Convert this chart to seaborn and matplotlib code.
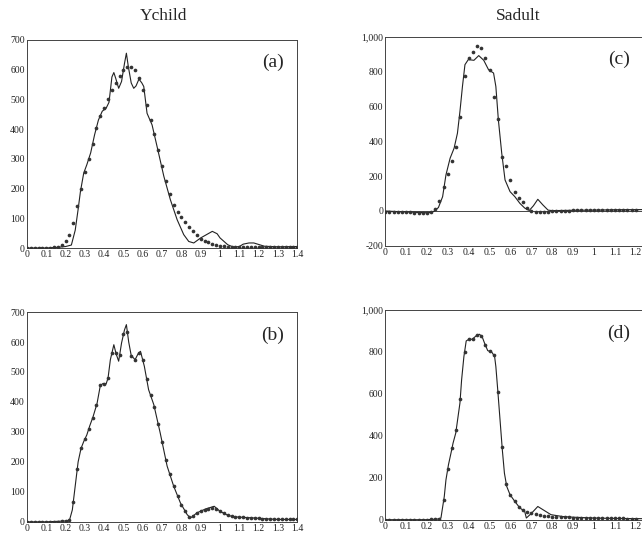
import numpy as np
import pandas as pd
import matplotlib
matplotlib.use("Agg")
import matplotlib.pyplot as plt
import seaborn as sns
from matplotlib.ticker import FuncFormatter, MultipleLocator

# ---- data ----
# sampling grid for the dotted (model) series
grid_y = np.round(np.arange(0, 1.401, 0.02), 2)   # Ychild, 0 .. 1.4
grid_s = np.round(np.arange(0, 1.201, 0.02), 2)   # Sadult, 0 .. 1.2

# (a) Ychild, solid line
a_line_x = [0, 0.10, 0.15, 0.20, 0.23, 0.25, 0.265, 0.277, 0.294, 0.31, 0.33, 0.35, 0.37,
            0.39, 0.41, 0.425, 0.44, 0.45, 0.46, 0.475, 0.49, 0.505, 0.515, 0.525, 0.54,
            0.553, 0.565, 0.58, 0.595, 0.605, 0.622, 0.648, 0.674, 0.709, 0.743, 0.778,
            0.812, 0.838, 0.864, 0.9, 0.93, 0.96, 0.985, 1.0, 1.04, 1.07, 1.1, 1.12, 1.15,
            1.175, 1.2, 1.23, 1.3, 1.4]
a_line_y = [0, 0, 2, 5, 10, 60, 130, 190, 252, 280, 320, 380, 430,
            460, 470, 490, 575, 590, 570, 537, 560, 620, 655, 610, 555,
            537, 545, 568, 555, 543, 453, 414, 341, 241, 162, 95,
            45, 22, 17, 34, 45, 56, 48, 34, 11, 3, 5, 13, 17,
            17, 12, 6, 4, 5]
# (a) Ychild, dots
a_dots = [0, 0, 0, 0, 0, 0, 1, 2, 4, 9,
          22, 45, 85, 140, 200, 255, 300, 350, 405, 445,
          470, 500, 530, 555, 578, 600, 610, 608, 597, 572,
          530, 480, 430, 385, 330, 275, 225, 180, 145, 120,
          105, 88, 72, 58, 45, 32, 25, 19, 14, 10,
          8, 6, 5, 4, 3, 3, 2, 2, 2, 2,
          2, 2, 2, 2, 2, 3, 3, 3, 3, 3, 3]

# (b) Ychild, solid line
b_line_x = [0, 0.1, 0.2, 0.22, 0.235, 0.25, 0.265, 0.28, 0.294, 0.31, 0.325, 0.342, 0.363,
            0.38, 0.395, 0.41, 0.42, 0.432, 0.45, 0.462, 0.475, 0.49, 0.505, 0.515, 0.527,
            0.54, 0.56, 0.575, 0.588, 0.608, 0.63, 0.657, 0.69, 0.726, 0.76, 0.795, 0.83,
            0.847, 0.865, 0.88, 0.925, 0.97, 1.0, 1.04, 1.07, 1.12, 1.175, 1.245, 1.3, 1.4]
b_line_y = [0, 0, 3, 5, 40, 120, 200, 245, 268, 290, 320, 350, 395,
            455, 462, 460, 480, 541, 591, 560, 536, 597, 640, 658, 600,
            555, 541, 560, 569, 519, 441, 391, 297, 186, 119, 63, 24,
            13, 22, 30, 43, 52, 35, 22, 17, 15, 13, 10, 8, 8]
# (b) Ychild, dots
b_dots = [0, 0, 0, 0, 0, 0, 0, 0, 1, 2,
          3, 5, 65, 175, 245, 277, 310, 347, 389, 455,
          461, 480, 563, 565, 558, 626, 634, 555, 541, 563,
          540, 477, 422, 382, 326, 266, 205, 160, 119, 87,
          57, 35, 17, 19, 30, 36, 41, 44, 45, 42,
          35, 28, 22, 19, 17, 16, 15, 14, 14, 13,
          12, 11, 10, 10, 9, 8, 8, 8, 8, 8, 8]

# (c) Sadult, solid line
c_line_x = [0, 0.05, 0.1, 0.15, 0.2, 0.22, 0.236, 0.255, 0.275, 0.291, 0.311, 0.33, 0.346,
            0.358, 0.37, 0.382, 0.398, 0.425, 0.448, 0.472, 0.495, 0.519, 0.53, 0.542,
            0.558, 0.574, 0.598, 0.621, 0.645, 0.668, 0.69, 0.71, 0.731, 0.755, 0.78, 0.8,
            0.9, 1.0, 1.1, 1.23]
c_line_y = [0, -3, -5, -8, -10, -8, 0, 20, 82, 207, 303, 360, 446,
            571, 714, 839, 868, 864, 891, 864, 810, 791, 714, 523,
            333, 178, 111, 82, 44, 17, 3, 30, 67, 35, 5, 2,
            4, 5, 7, 8]
# (c) Sadult, dots
c_dots = [-3, -4, -5, -5, -6, -7, -8, -9, -10, -10,
          -10, -5, 10, 60, 140, 210, 285, 365, 540, 772,
          875, 910, 945, 935, 877, 810, 655, 530, 310, 260,
          180, 110, 75, 50, 15, -2, -5, -6, -5, -3,
          -1, 0, 1, 2, 2, 3, 3, 3, 4, 4,
          4, 5, 5, 5, 6, 6, 6, 7, 7, 7, 8]

# (d) Sadult, solid line
d_line_x = [0, 0.1, 0.2, 0.25, 0.258, 0.267, 0.283, 0.291, 0.303, 0.315, 0.325, 0.338, 0.349,
            0.358, 0.366, 0.377, 0.388, 0.401, 0.417, 0.435, 0.451, 0.464, 0.476, 0.491,
            0.511, 0.524, 0.53, 0.539, 0.55, 0.561, 0.571, 0.582, 0.598, 0.621, 0.645,
            0.668, 0.676, 0.7, 0.731, 0.76, 0.794, 0.85, 0.9, 1.0, 1.1, 1.23]
d_line_y = [0, 0, 0, 3, 5, 8, 111, 190, 262, 317, 365, 413, 492,
            556, 667, 778, 852, 860, 860, 876, 884, 873, 841, 806,
            798, 778, 730, 619, 476, 333, 222, 159, 119, 87, 56,
            40, 8, 30, 63, 45, 24, 15, 12, 8, 6, 5]
# (d) Sadult, dots
d_dots = [0, 0, 0, 0, 0, 0, 0, 0, 0, 0,
          0, 1, 2, 5, 92, 244, 341, 427, 575, 800,
          859, 863, 878, 876, 832, 802, 784, 610, 347, 170,
          116, 88, 62, 45, 38, 32, 28, 24, 20, 17,
          15, 14, 13, 12, 11, 10, 10, 9, 9, 8,
          8, 7, 7, 7, 6, 6, 6, 6, 5, 5, 5]

sns.set_style("white")
plt.rcParams['font.family'] = ['Liberation Serif', 'DejaVu Serif']

fig = plt.figure(figsize=(6.42, 5.38), dpi=100)

panels = [
    # label, rect, line x, line y, grid, dots, xlim, ylim, ystep
    ("(a)", [0.042, 0.539, 0.421, 0.387], a_line_x, a_line_y, grid_y, a_dots, (0, 1.4), (0, 700), 100),
    ("(b)", [0.042, 0.030, 0.421, 0.390], b_line_x, b_line_y, grid_y, b_dots, (0, 1.4), (0, 700), 100),
    ("(c)", [0.600, 0.543, 0.400, 0.389], c_line_x, c_line_y, grid_s, c_dots, (0, 1.23), (-200, 1000), 200),
    ("(d)", [0.600, 0.034, 0.400, 0.390], d_line_x, d_line_y, grid_s, d_dots, (0, 1.23), (0, 1000), 200),
]

for lab, rect, lx, ly, gx, gd, xl, yl, ystep in panels:
    ax = fig.add_axes(rect)
    if lab == "(c)":
        ax.axhline(0, color="#444444", lw=0.7, zorder=1)
    sns.lineplot(x=lx, y=ly, ax=ax, color="#222222", lw=0.8, zorder=2)
    sns.scatterplot(x=gx, y=gd, ax=ax, color="#333333", s=7, linewidth=0, zorder=3)
    ax.set_xlim(*xl)
    ax.set_ylim(*yl)
    ax.xaxis.set_major_locator(MultipleLocator(0.1))
    ax.yaxis.set_major_locator(MultipleLocator(ystep))
    ax.xaxis.set_major_formatter(FuncFormatter(lambda v, p: f"{v:g}"))
    ax.yaxis.set_major_formatter(FuncFormatter(lambda v, p: f"{v:,.0f}"))
    ax.tick_params(labelsize=7, length=2, width=0.5, pad=1.5, direction="in", colors="#222222")
    for sp in ax.spines.values():
        sp.set_linewidth(0.7)
        sp.set_color("#444444")
    ax.text(0.91, 0.89, lab, transform=ax.transAxes, ha="center", va="center", fontsize=14)
    ax.set_xlabel("")
    ax.set_ylabel("")

fig.text(0.254, 0.970, "Ychild", ha="center", va="center", fontsize=12.5)
fig.text(0.807, 0.970, "Sadult", ha="center", va="center", fontsize=12.5)

fig.savefig("out.png", dpi=100)
